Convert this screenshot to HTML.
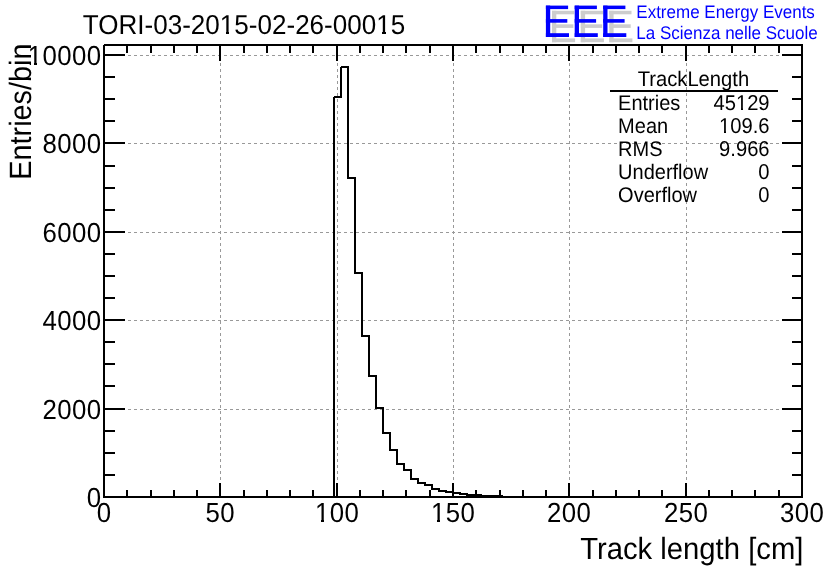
<!DOCTYPE html><html><head><meta charset="utf-8"><style>html,body{margin:0;padding:0;background:#fff;overflow:hidden}svg{display:block}</style></head><body><svg width="836" height="572" viewBox="0 0 836 572"><rect width="836" height="572" fill="#fff"/><path d="M104,409.5H802M104,320.5H802M104,232.5H802M104,143.5H802M104,55.5H802M220.5,45V497M337.5,45V497M453.5,45V497M569.5,45V497M686.5,45V497" stroke="#999" stroke-width="1" stroke-dasharray="3 3" fill="none"/><path d="M104,497H334V97H341V67H348V178H355V273H362V336H369V376H376V408H383V433H390V450H397V464H404V470H411V479H418V483H425V485H432V489H439V491H446V492H453V493H460V494H467V495H474V495H481V496H488V496H495V496H502V497H802" stroke="#000" stroke-width="2" fill="none"/><rect x="333" y="96" width="1" height="1" fill="#fff"/><rect x="340" y="66" width="1" height="1" fill="#fff"/><path d="M104,497V483M104,45V61M127,497V490M127,45V53M151,497V490M151,45V53M174,497V490M174,45V53M197,497V490M197,45V53M220,497V483M220,45V61M244,497V490M244,45V53M267,497V490M267,45V53M290,497V490M290,45V53M313,497V490M313,45V53M337,497V483M337,45V61M360,497V490M360,45V53M383,497V490M383,45V53M406,497V490M406,45V53M430,497V490M430,45V53M453,497V483M453,45V61M476,497V490M476,45V53M500,497V490M500,45V53M523,497V490M523,45V53M546,497V490M546,45V53M569,497V483M569,45V61M593,497V490M593,45V53M616,497V490M616,45V53M639,497V490M639,45V53M662,497V490M662,45V53M686,497V483M686,45V61M709,497V490M709,45V53M732,497V490M732,45V53M755,497V490M755,45V53M779,497V490M779,45V53M802,497V483M802,45V61M104,497H125M802,497H782M104,475H115M802,475H792M104,453H115M802,453H792M104,431H115M802,431H792M104,409H125M802,409H782M104,386H115M802,386H792M104,364H115M802,364H792M104,342H115M802,342H792M104,320H125M802,320H782M104,298H115M802,298H792M104,276H115M802,276H792M104,254H115M802,254H792M104,232H125M802,232H782M104,210H115M802,210H792M104,188H115M802,188H792M104,166H115M802,166H792M104,143H125M802,143H782M104,121H115M802,121H792M104,99H115M802,99H792M104,77H115M802,77H792M104,55H125M802,55H782" stroke="#000" stroke-width="2" fill="none"/><rect x="104" y="45" width="698" height="452" stroke="#000" stroke-width="2" fill="none"/><rect x="103" y="44" width="1" height="1" fill="#fff"/><rect x="552.0" y="10.8" width="4.3" height="31.4" fill="#cdcdcd"/><rect x="552.0" y="10.8" width="22.2" height="3.5" fill="#cdcdcd"/><rect x="552.0" y="24.3" width="21.4" height="3.6" fill="#cdcdcd"/><rect x="552.0" y="38.400000000000006" width="23.1" height="3.8" fill="#cdcdcd"/><rect x="580.8000000000001" y="10.8" width="4.3" height="31.4" fill="#cdcdcd"/><rect x="580.8000000000001" y="10.8" width="22.2" height="3.5" fill="#cdcdcd"/><rect x="580.8000000000001" y="24.3" width="21.4" height="3.6" fill="#cdcdcd"/><rect x="580.8000000000001" y="38.400000000000006" width="23.1" height="3.8" fill="#cdcdcd"/><rect x="609.3000000000001" y="10.8" width="4.3" height="31.4" fill="#cdcdcd"/><rect x="609.3000000000001" y="10.8" width="22.2" height="3.5" fill="#cdcdcd"/><rect x="609.3000000000001" y="24.3" width="21.4" height="3.6" fill="#cdcdcd"/><rect x="609.3000000000001" y="38.400000000000006" width="23.1" height="3.8" fill="#cdcdcd"/><rect x="545.9" y="5.6" width="4.3" height="31.4" fill="#0000ff"/><rect x="545.9" y="5.6" width="22.2" height="3.5" fill="#0000ff"/><rect x="545.9" y="19.1" width="21.4" height="3.6" fill="#0000ff"/><rect x="545.9" y="33.2" width="23.1" height="3.8" fill="#0000ff"/><rect x="574.7" y="5.6" width="4.3" height="31.4" fill="#0000ff"/><rect x="574.7" y="5.6" width="22.2" height="3.5" fill="#0000ff"/><rect x="574.7" y="19.1" width="21.4" height="3.6" fill="#0000ff"/><rect x="574.7" y="33.2" width="23.1" height="3.8" fill="#0000ff"/><rect x="603.2" y="5.6" width="4.3" height="31.4" fill="#0000ff"/><rect x="603.2" y="5.6" width="22.2" height="3.5" fill="#0000ff"/><rect x="603.2" y="19.1" width="21.4" height="3.6" fill="#0000ff"/><rect x="603.2" y="33.2" width="23.1" height="3.8" fill="#0000ff"/><path d="M610,91H778" stroke="#000" stroke-width="2"/><g font-family="Liberation Sans, sans-serif" text-rendering="geometricPrecision" style="will-change:transform"><text x="104.2" y="522.4" font-size="25.8" text-anchor="middle" fill="#000" transform="translate(0 522.4) scale(1 1.07) translate(0 -522.4)" letter-spacing="0.4">0</text><text x="220.2" y="522.4" font-size="25.8" text-anchor="middle" fill="#000" transform="translate(0 522.4) scale(1 1.07) translate(0 -522.4)" letter-spacing="0.4">50</text><text x="337.2" y="522.4" font-size="25.8" text-anchor="middle" fill="#000" transform="translate(0 522.4) scale(1 1.07) translate(0 -522.4)" letter-spacing="0.4">100</text><text x="453.2" y="522.4" font-size="25.8" text-anchor="middle" fill="#000" transform="translate(0 522.4) scale(1 1.07) translate(0 -522.4)" letter-spacing="0.4">150</text><text x="569.2" y="522.4" font-size="25.8" text-anchor="middle" fill="#000" transform="translate(0 522.4) scale(1 1.07) translate(0 -522.4)" letter-spacing="0.4">200</text><text x="686.2" y="522.4" font-size="25.8" text-anchor="middle" fill="#000" transform="translate(0 522.4) scale(1 1.07) translate(0 -522.4)" letter-spacing="0.4">250</text><text x="802.2" y="522.4" font-size="25.8" text-anchor="middle" fill="#000" transform="translate(0 522.4) scale(1 1.07) translate(0 -522.4)" letter-spacing="0.4">300</text><text x="101.6" y="507.2" font-size="25.8" text-anchor="end" fill="#000" transform="translate(0 507.2) scale(1 1.07) translate(0 -507.2)" letter-spacing="0.4">0</text><text x="101.6" y="419.2" font-size="25.8" text-anchor="end" fill="#000" transform="translate(0 419.2) scale(1 1.07) translate(0 -419.2)" letter-spacing="0.4">2000</text><text x="101.6" y="330.2" font-size="25.8" text-anchor="end" fill="#000" transform="translate(0 330.2) scale(1 1.07) translate(0 -330.2)" letter-spacing="0.4">4000</text><text x="101.6" y="242.2" font-size="25.8" text-anchor="end" fill="#000" transform="translate(0 242.2) scale(1 1.07) translate(0 -242.2)" letter-spacing="0.4">6000</text><text x="101.6" y="153.2" font-size="25.8" text-anchor="end" fill="#000" transform="translate(0 153.2) scale(1 1.07) translate(0 -153.2)" letter-spacing="0.4">8000</text><text x="101.6" y="65.2" font-size="25.8" text-anchor="end" fill="#000" transform="translate(0 65.2) scale(1 1.07) translate(0 -65.2)" letter-spacing="0.4">10000</text><text x="803.4" y="558.7" font-size="29.25" text-anchor="end" fill="#000" transform="translate(0 558.7) scale(1 1.05) translate(0 -558.7)">Track length [cm]</text><text font-size="28.8" transform="translate(31 43.6) rotate(-90) scale(1 1.07)" text-anchor="end">Entries/bin</text><text x="82.8" y="34.0" font-size="26.05" text-anchor="start" fill="#000" transform="translate(0 34.0) scale(1 1.05) translate(0 -34.0)">TORI-03-2015-02-26-00015</text><text x="636.3" y="18" font-size="17" text-anchor="start" fill="#0000ff" transform="translate(0 18) scale(1 1.07) translate(0 -18)">Extreme Energy Events</text><text x="636.3" y="38.9" font-size="17" text-anchor="start" fill="#0000ff" transform="translate(0 38.9) scale(1 1.07) translate(0 -38.9)">La Scienza nelle Scuole</text><text x="693.4" y="85.9" font-size="20.2" text-anchor="middle" fill="#000" transform="translate(0 85.9) scale(1 1.05) translate(0 -85.9)">TrackLength</text><text x="618.1" y="109.6" font-size="20" text-anchor="start" fill="#000" transform="translate(0 109.6) scale(1 1.06) translate(0 -109.6)">Entries</text><text x="769.6" y="109.6" font-size="20.2" text-anchor="end" fill="#000" transform="translate(0 109.6) scale(1 1.06) translate(0 -109.6)">45129</text><text x="618.1" y="132.75" font-size="20" text-anchor="start" fill="#000" transform="translate(0 132.75) scale(1 1.06) translate(0 -132.75)">Mean</text><text x="769.6" y="132.75" font-size="20.2" text-anchor="end" fill="#000" transform="translate(0 132.75) scale(1 1.06) translate(0 -132.75)">109.6</text><text x="618.1" y="155.9" font-size="20" text-anchor="start" fill="#000" transform="translate(0 155.9) scale(1 1.06) translate(0 -155.9)">RMS</text><text x="769.6" y="155.9" font-size="20.2" text-anchor="end" fill="#000" transform="translate(0 155.9) scale(1 1.06) translate(0 -155.9)">9.966</text><text x="618.1" y="179.05" font-size="20" text-anchor="start" fill="#000" transform="translate(0 179.05) scale(1 1.06) translate(0 -179.05)">Underflow</text><text x="769.6" y="179.05" font-size="20.2" text-anchor="end" fill="#000" transform="translate(0 179.05) scale(1 1.06) translate(0 -179.05)">0</text><text x="618.1" y="202.2" font-size="20" text-anchor="start" fill="#000" transform="translate(0 202.2) scale(1 1.06) translate(0 -202.2)">Overflow</text><text x="769.6" y="202.2" font-size="20.2" text-anchor="end" fill="#000" transform="translate(0 202.2) scale(1 1.06) translate(0 -202.2)">0</text></g><g fill="#fff"><rect x="221" y="32" width="5" height="2"/><rect x="229" y="32" width="4" height="2"/><rect x="378" y="32" width="4" height="2"/><rect x="386" y="32" width="4" height="2"/><rect x="316" y="520" width="5" height="2"/><rect x="324" y="520" width="5" height="2"/><rect x="432" y="520" width="5" height="2"/><rect x="440" y="520" width="5" height="2"/><rect x="31" y="63" width="3" height="2"/><rect x="37" y="63" width="4" height="2"/><rect x="737" y="108" width="4" height="2"/><rect x="743" y="108" width="4" height="2"/><rect x="720" y="131" width="4" height="2"/><rect x="726" y="131" width="4" height="2"/></g></svg></body></html>
